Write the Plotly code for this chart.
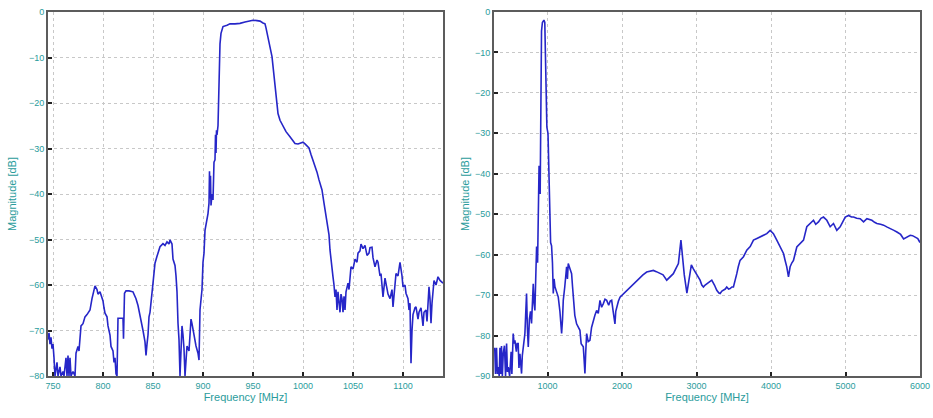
import plotly.graph_objects as go

# ---------------- Left panel data (narrow band) ----------------
left_freq = [745, 746, 747, 748, 749, 750, 751, 752, 754, 755, 757, 758, 760, 761, 763, 764, 765, 766, 767, 768,
             770, 772, 773, 775, 776, 777, 778, 780, 782, 784, 787, 789, 790, 792, 794, 795, 797, 799, 800, 801,
             802, 804, 805, 807, 808, 810, 811, 812, 813, 814, 815, 818, 820, 820.5, 821.5, 823, 826, 830, 833, 835,
             837, 839, 840, 842, 843, 844, 845, 846, 847, 850, 852, 854, 857, 860, 862, 864, 866, 867, 869, 870,
             872, 873, 874, 875, 876, 877, 878, 879, 880, 881, 882, 883, 884, 886, 888, 889, 890, 892, 893, 895,
             896, 897, 899, 900, 901, 902, 904, 905, 906, 906.5, 907, 907.5, 908, 909, 910, 911, 912, 912.5, 913, 913.5,
             914, 915, 916, 917, 918, 920, 924, 927, 932, 937, 942, 946, 950, 954, 957, 960, 962, 963, 965, 967,
             969, 971, 972, 974, 975, 977, 980, 983, 987, 990, 992, 995, 998, 1000, 1002, 1004, 1006, 1008, 1011, 1014,
             1016, 1018, 1019, 1021, 1022, 1024, 1026, 1027, 1029, 1030, 1031, 1032, 1033, 1034, 1035, 1036, 1037, 1038, 1039, 1040,
             1041, 1042, 1043, 1045, 1046, 1048, 1050, 1052, 1054, 1055, 1057, 1058, 1060, 1062, 1064, 1066, 1067, 1069, 1070, 1072,
             1074, 1075, 1077, 1078, 1080, 1082, 1083, 1085, 1087, 1089, 1090, 1092, 1093, 1095, 1097, 1099, 1100, 1102, 1103, 1105,
             1106, 1107, 1108, 1109, 1110, 1112, 1113, 1115, 1116, 1118, 1120, 1121, 1123, 1124, 1126, 1127, 1128, 1129, 1131, 1133,
             1135, 1137, 1140]
left_mag = [-72, -70.5, -73, -71.5, -74, -73, -76, -80, -77, -80, -78, -80, -79, -80, -76, -80, -75.5, -80, -76, -80,
            -79, -80, -75, -73.5, -74.5, -71, -69, -68.5, -67, -66.5, -65.5, -63, -62, -60.2, -61, -62, -61.5, -63, -63.5, -65,
            -66.2, -67, -69, -71, -73.5, -74.5, -77, -76, -79.5, -80, -67.3, -67.3, -67.3, -71.8, -61.8, -61.3, -61.3, -61.5, -63, -64.5,
            -66.5, -68.5, -70, -72.5, -75.5, -73, -71, -67, -66, -59.6, -55.2, -53.7, -51.6, -50.9, -51.3, -50.5, -51, -50.1, -51, -54.3,
            -55.7, -58, -61.5, -68.4, -72, -80, -72, -69, -71, -74, -80, -76, -73.4, -74.5, -67.5, -68.5, -70, -72, -73.4, -75,
            -76.5, -65.5, -61, -55, -53, -48, -46, -44.3, -42, -35, -41, -36, -42.5, -40, -41.3, -33, -32.5, -27, -31, -26,
            -27, -25, -15, -7, -4.7, -3.2, -2.9, -2.6, -2.6, -2.5, -2.2, -2, -1.8, -1.9, -2, -2.4, -2.6, -3.5, -5.4, -7.5,
            -9.8, -14, -16.4, -20, -22.3, -23.8, -25.2, -26.3, -27.4, -28.3, -28.9, -29, -28.8, -28.6, -29, -29.4, -29.9, -31.3, -33.2, -35.2,
            -36.9, -38.3, -39.1, -42, -43.5, -45.7, -49, -52.3, -55.5, -58.2, -60, -62.6, -61, -65.5, -61.5, -63.5, -66, -62, -63, -66,
            -62.5, -65.5, -61.5, -59.6, -61, -56, -56.5, -54.3, -55, -53, -52.5, -51, -52, -51.3, -53.5, -53, -51.8, -51.7, -54, -56,
            -54.5, -55, -58, -57.5, -62.6, -58.5, -59.6, -62, -63, -61, -64.8, -60, -57.5, -58, -55, -58, -60.4, -60, -61.8, -63,
            -65.5, -64, -77.2, -70, -66.5, -65, -64.8, -67.5, -66, -65, -69, -66, -65.5, -68, -60.4, -63, -68.4, -64, -59, -60,
            -58.2, -59, -59.6]

# ---------------- Right panel data (wide band) ----------------
right_freq = [290, 300, 314, 325, 336, 350, 360, 370, 381, 392, 404, 420, 435, 449, 460, 471, 490, 510, 520, 538,
              550, 561, 580, 590, 605, 615, 628, 640, 650, 660, 675, 695, 705, 717, 728, 740, 755, 770, 784, 795,
              807, 818, 829, 840, 852, 865, 875, 885, 900, 910, 918, 930, 940, 950, 962, 970, 978, 990, 1005, 1015,
              1022, 1031, 1040, 1053, 1065, 1076, 1087, 1098, 1120, 1143, 1165, 1188, 1200, 1210, 1230, 1255, 1266, 1277, 1300, 1322,
              1335, 1345, 1365, 1389, 1410, 1434, 1450, 1479, 1490, 1501, 1512, 1524, 1545, 1568, 1590, 1613, 1635, 1658, 1680, 1703,
              1725, 1748, 1770, 1793, 1820, 1840, 1860, 1880, 1904, 1915, 1927, 1950, 1972, 2000, 2020, 2061, 2100, 2151, 2200, 2240,
              2280, 2330, 2380, 2420, 2460, 2509, 2550, 2599, 2640, 2688, 2720, 2756, 2790, 2810, 2835, 2870, 2900, 2930, 2957, 2980,
              3002, 3025, 3047, 3070, 3092, 3115, 3136, 3170, 3204, 3240, 3271, 3300, 3316, 3340, 3360, 3385, 3405, 3430, 3450, 3475,
              3495, 3520, 3540, 3560, 3584, 3630, 3674, 3720, 3764, 3810, 3853, 3900, 3943, 3988, 4010, 4032, 4077, 4122, 4167, 4190,
              4211, 4234, 4245, 4256, 4280, 4301, 4346, 4391, 4436, 4480, 4525, 4570, 4600, 4637, 4670, 4704, 4749, 4794, 4838, 4883,
              4928, 4960, 4996, 5041, 5080, 5108, 5150, 5197, 5242, 5287, 5320, 5354, 5390, 5421, 5470, 5511, 5560, 5600, 5650, 5690,
              5740, 5780, 5820, 5869, 5900, 5936, 5970, 6000]
right_mag = [-83, -89.5, -83, -89.5, -87.8, -90, -83, -89.5, -82.6, -90, -84.5, -82.5, -90, -82, -89, -87.8, -90, -84, -89.5, -79.5,
             -82, -81.2, -84, -82, -82, -88, -84.5, -89, -89.4, -85, -83, -79.5, -75, -69.6, -78, -82.8, -76, -74, -77, -70,
             -67.2, -72, -73.8, -66, -58, -62, -48, -38, -45, -30, -4.7, -2.6, -2.2, -2, -2.6, -10, -22, -28.5, -30, -40,
             -46.5, -56.4, -57, -57.8, -62, -69.6, -66, -67.9, -69, -70.5, -74, -79.5, -76, -71.3, -68, -63, -66, -62.2, -63.5, -64.7,
             -68, -71.3, -75, -77.1, -78, -78.7, -82, -82.8, -86, -89.4, -84, -79.5, -81.5, -81.2, -78, -76.2, -75, -73.8, -74.5, -71.3,
             -73, -72.1, -71, -71.3, -72.5, -71.5, -71.3, -74, -77.1, -74, -72.9, -71.5, -70.5, -70, -69.5, -68.8, -68, -67.2, -66.3, -65.5,
             -65, -64.3, -64, -63.9, -64.2, -64.7, -65, -66.3, -65.5, -64.7, -63.5, -62.2, -56.4, -60.6, -65, -69.5, -65.5, -62.5, -63.5, -64.2,
             -64.7, -65.5, -66.3, -67.5, -68, -67.5, -67.2, -66.7, -66.3, -67.5, -68.8, -69.5, -69.6, -69, -68.8, -68.5, -68, -68.5, -68.4, -68,
             -68, -66.5, -64.7, -63, -61.4, -60.5, -58.9, -58, -56.4, -56, -55.6, -55.2, -54.8, -54, -54.3, -54.8, -56.4, -58.1, -59.7, -61.5,
             -63, -65.5, -64, -63, -62, -61.4, -58.1, -57.3, -56.4, -53.1, -52.3, -51.5, -52.5, -51.9, -51, -50.7, -51.5, -53.1, -52.3, -54,
             -53.1, -52, -50.7, -50.3, -50.7, -50.7, -51, -51.1, -51.9, -51.1, -51.3, -51.5, -52, -52.3, -52.5, -52.7, -53.2, -53.5, -54, -54.4,
             -55, -56.1, -55.6, -55.2, -55.3, -55.6, -56, -57]

left_xticks = [750, 800, 850, 900, 950, 1000, 1050, 1100]
left_yticks = [0, -10, -20, -30, -40, -50, -60, -70, -80]
right_xticks = [1000, 2000, 3000, 4000, 5000, 6000]
right_yticks = [0, -10, -20, -30, -40, -50, -60, -70, -80, -90]

W, H = 933, 418
ML, MR, MT, MB = 48, 933 - 920, 12, 418 - 376
PW = W - ML - MR
LINE = "#2626c8"
TEAL = "#2a9c9c"
FONT = "Liberation Sans"

fig = go.Figure()
fig.add_trace(go.Scatter(x=left_freq, y=left_mag, mode="lines",
                         line=dict(color=LINE, width=1.6), xaxis="x", yaxis="y",
                         showlegend=False))
fig.add_trace(go.Scatter(x=right_freq, y=right_mag, mode="lines",
                         line=dict(color=LINE, width=1.6), xaxis="x2", yaxis="y2",
                         showlegend=False))

common = dict(showline=True, linecolor="#5c5c5c", linewidth=2, mirror=True,
              showgrid=True, gridcolor="#c8c8c8", griddash="dot", gridwidth=1,
              ticks="inside", ticklen=4, tickcolor="#222222", tickwidth=1.5,
              zeroline=False, ticklabeloverflow="allow", automargin=False,
              tickfont=dict(family=FONT, size=9, color=TEAL),
              title_font=dict(family=FONT, size=11, color=TEAL))

fig.update_layout(
    width=W, height=H,
    paper_bgcolor="white", plot_bgcolor="white",
    margin=dict(l=ML, r=MR, t=MT, b=MB),
    xaxis=dict(domain=[0, (443 - ML) / PW], range=[745, 1140], tickvals=left_xticks,
               title=dict(text="Frequency [MHz]", standoff=2), anchor="y", **common),
    yaxis=dict(domain=[0, 1], range=[-80, 0], tickvals=left_yticks,
               title=dict(text="Magnitude [dB]", standoff=10), anchor="x", **common),
    xaxis2=dict(domain=[(494 - ML) / PW, 1], range=[280, 6000], tickvals=right_xticks,
                title=dict(text="Frequency [MHz]", standoff=2), anchor="y2", **common),
    yaxis2=dict(domain=[0, 1], range=[-90, 0], tickvals=right_yticks,
                title=dict(text="Magnitude [dB]", standoff=3), anchor="x2", **common),
)

# remove the browser's default page margin so the figure fills the window exactly
fig.write_html("out.html",
               config={"displayModeBar": False},
               post_script="document.body.style.margin='0px';document.body.style.overflow='hidden';")
